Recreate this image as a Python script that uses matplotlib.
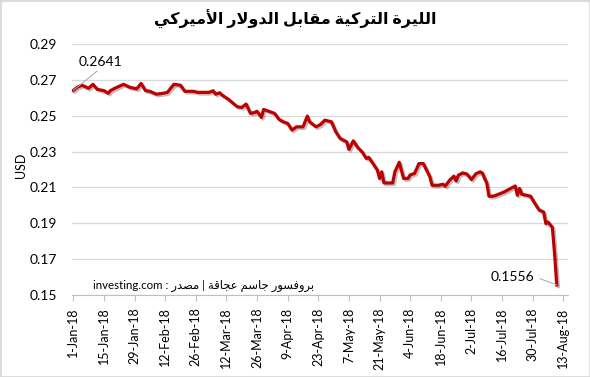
import pandas as pd
import matplotlib
matplotlib.use("Agg")
import matplotlib.pyplot as plt
import matplotlib.patheffects as pe
from matplotlib.patches import Rectangle

# TRY/USD rate
dates = [
    "2018-01-01", "2018-01-03", "2018-01-05", "2018-01-08", "2018-01-10", "2018-01-12",
    "2018-01-15", "2018-01-17", "2018-01-18", "2018-01-20", "2018-01-24", "2018-01-27",
    "2018-01-30", "2018-02-01", "2018-02-03", "2018-02-05", "2018-02-08", "2018-02-11",
    "2018-02-13", "2018-02-16", "2018-02-19", "2018-02-21", "2018-02-25", "2018-02-27",
    "2018-03-04", "2018-03-06", "2018-03-07", "2018-03-09", "2018-03-10", "2018-03-13",
    "2018-03-15", "2018-03-17", "2018-03-19", "2018-03-21", "2018-03-23", "2018-03-25",
    "2018-03-26", "2018-03-28", "2018-03-29", "2018-04-01", "2018-04-03", "2018-04-05",
    "2018-04-07", "2018-04-09", "2018-04-11", "2018-04-13", "2018-04-16", "2018-04-18",
    "2018-04-19", "2018-04-22", "2018-04-24", "2018-04-26", "2018-04-29", "2018-05-01",
    "2018-05-03", "2018-05-06", "2018-05-07", "2018-05-09", "2018-05-11", "2018-05-13",
    "2018-05-15", "2018-05-16", "2018-05-18", "2018-05-20", "2018-05-21", "2018-05-22",
    "2018-05-23", "2018-05-27", "2018-05-28", "2018-05-30", "2018-06-01", "2018-06-03",
    "2018-06-04", "2018-06-06", "2018-06-08", "2018-06-10", "2018-06-13", "2018-06-14",
    "2018-06-17", "2018-06-19", "2018-06-20", "2018-06-22", "2018-06-24", "2018-06-25",
    "2018-06-26", "2018-06-28", "2018-06-30", "2018-07-02", "2018-07-04", "2018-07-06",
    "2018-07-07", "2018-07-08", "2018-07-09", "2018-07-10", "2018-07-12", "2018-07-14",
    "2018-07-17", "2018-07-22", "2018-07-23", "2018-07-24", "2018-07-25", "2018-07-29",
    "2018-07-31", "2018-08-02", "2018-08-04", "2018-08-05", "2018-08-06", "2018-08-08",
    "2018-08-09", "2018-08-10",
]
rates = [
    0.2641, 0.2660, 0.2670, 0.2653, 0.2675, 0.2647,
    0.2640, 0.2625, 0.2640, 0.2653, 0.2675, 0.2658,
    0.2650, 0.2680, 0.2640, 0.2636, 0.2620, 0.2625,
    0.2630, 0.2675, 0.2670, 0.2636, 0.2636, 0.2630,
    0.2630, 0.2639, 0.2620, 0.2628, 0.2615, 0.2591,
    0.2570, 0.2550, 0.2546, 0.2565, 0.2513, 0.2518,
    0.2525, 0.2490, 0.2535, 0.2522, 0.2513, 0.2480,
    0.2466, 0.2457, 0.2420, 0.2438, 0.2438, 0.2498,
    0.2466, 0.2438, 0.2451, 0.2475, 0.2466, 0.2410,
    0.2373, 0.2354, 0.2312, 0.2360, 0.2323, 0.2298,
    0.2261, 0.2268, 0.2233, 0.2196, 0.2150, 0.2187,
    0.2125, 0.2125, 0.2187, 0.2240, 0.2150, 0.2150,
    0.2170, 0.2178, 0.2233, 0.2233, 0.2159, 0.2112,
    0.2112, 0.2118, 0.2107, 0.2140, 0.2163, 0.2136,
    0.2168, 0.2181, 0.2174, 0.2144, 0.2176, 0.2187,
    0.2180, 0.2150, 0.2125, 0.2051, 0.2051, 0.2060,
    0.2075, 0.2108, 0.2056, 0.2094, 0.2062, 0.2051,
    0.2010, 0.1973, 0.1963, 0.1898, 0.1907, 0.1876,
    0.1730, 0.1556,
]
tick_dates = pd.date_range("2018-01-01", "2018-08-13", freq="14D")
tick_labels = [f"{d.day}-{d:%b}-18" for d in tick_dates]
y_ticks = [0.15, 0.17, 0.19, 0.21, 0.23, 0.25, 0.27, 0.29]

title_ar = "الليرة التركية مقابل الدولار الأميركي"
source_ar = "بروفسور جاسم عجاقة"
source_label_ar = "مصدر"

# matplotlib does not shape Arabic, so pick the presentation forms by hand
# (isolated, final, initial, medial)
FORMS = {
    "ا": (0xFE8D, 0xFE8E, None, None), "أ": (0xFE83, 0xFE84, None, None),
    "ب": (0xFE8F, 0xFE90, 0xFE91, 0xFE92), "ة": (0xFE93, 0xFE94, None, None),
    "ت": (0xFE95, 0xFE96, 0xFE97, 0xFE98), "ج": (0xFE9D, 0xFE9E, 0xFE9F, 0xFEA0),
    "د": (0xFEA9, 0xFEAA, None, None), "ر": (0xFEAD, 0xFEAE, None, None),
    "س": (0xFEB1, 0xFEB2, 0xFEB3, 0xFEB4), "ص": (0xFEB9, 0xFEBA, 0xFEBB, 0xFEBC),
    "ع": (0xFEC9, 0xFECA, 0xFECB, 0xFECC), "ف": (0xFED1, 0xFED2, 0xFED3, 0xFED4),
    "ق": (0xFED5, 0xFED6, 0xFED7, 0xFED8), "ك": (0xFED9, 0xFEDA, 0xFEDB, 0xFEDC),
    "ل": (0xFEDD, 0xFEDE, 0xFEDF, 0xFEE0), "م": (0xFEE1, 0xFEE2, 0xFEE3, 0xFEE4),
    "و": (0xFEED, 0xFEEE, None, None), "ي": (0xFEF1, 0xFEF2, 0xFEF3, 0xFEF4),
}
LAM_ALEF = {"ا": (0xFEFB, 0xFEFC), "أ": (0xFEF7, 0xFEF8)}


def shape_ar(text):
    out = []
    i = 0
    n = len(text)
    while i < n:
        c = text[i]
        if c not in FORMS:
            out.append(c)
            i += 1
            continue
        prev = text[i - 1] if i > 0 else ""
        link_prev = prev in FORMS and FORMS[prev][2] is not None
        if c == "ل" and i + 1 < n and text[i + 1] in LAM_ALEF:
            iso, fin = LAM_ALEF[text[i + 1]]
            out.append(chr(fin if link_prev else iso))
            i += 2
            continue
        nxt = text[i + 1] if i + 1 < n else ""
        iso, fin, ini, med = FORMS[c]
        link_next = ini is not None and nxt in FORMS
        if link_prev and link_next:
            code = med
        elif link_prev:
            code = fin
        elif link_next:
            code = ini
        else:
            code = iso
        out.append(chr(code))
        i += 1
    return "".join(reversed(out))


plt.rcParams["font.family"] = ["Lato", "DejaVu Sans"]

x = pd.to_datetime(dates)

fig = plt.figure(figsize=(5.9, 3.77), dpi=100)
ax = fig.add_axes([0.122, 0.2175, 0.8407, 0.6658])

ax.plot(x, rates, color="#C00000", linewidth=2.3, solid_joinstyle="round",
        path_effects=[pe.SimpleLineShadow(offset=(1.2, -1.2), shadow_color="black", alpha=0.25),
                      pe.Normal()], zorder=3)

ax.set_ylim(0.15, 0.29)
ax.set_yticks(y_ticks)
ax.set_yticklabels([f"{v:.2f}" for v in y_ticks], fontsize=10)
ax.set_xlim(pd.Timestamp("2017-12-31 10:00"), pd.Timestamp("2018-08-15 03:00"))
ax.set_xticks(tick_dates)
ax.set_xticklabels(tick_labels, rotation=90, fontsize=9, va="top", ha="center")

ax.grid(axis="y", color="#D9D9D9", linewidth=0.9)
ax.set_axisbelow(True)
for s in ["top", "right", "left"]:
    ax.spines[s].set_visible(False)
ax.spines["bottom"].set_color("#BFBFBF")
ax.tick_params(axis="y", length=0, pad=11, colors="#000000")
ax.tick_params(axis="x", length=4, color="#BFBFBF", pad=5)

# first / last value callouts
ax.annotate(f"{rates[0]:.4f}", xy=(x[0], rates[0]), xytext=(4, 16), textcoords="offset points",
            fontsize=10, ha="left", va="bottom",
            arrowprops=dict(arrowstyle="-", color="#A6A6A6", lw=0.7, shrinkA=0, shrinkB=0,
                            relpos=(0.5, 0.0)))
ax.annotate(f"{rates[-1]:.4f}", xy=(x[-1], rates[-1]), xytext=(-16, 6), textcoords="offset points",
            fontsize=10, ha="right", va="center",
            arrowprops=dict(arrowstyle="-", color="#A6A6A6", lw=0.7, shrinkA=2, shrinkB=0,
                            relpos=(1.0, 0.5)))

source_text = "investing.com : " + shape_ar(source_label_ar) + " | " + shape_ar(source_ar)
fig.text(93 / 590, 1 - 286 / 377, source_text, fontsize=8.3, ha="left", va="center")

fig.text(0.5, 1 - 19 / 377, shape_ar(title_ar), fontsize=11.5, fontweight="bold",
         ha="center", va="center")
fig.text(20.5 / 590, 1 - 165 / 377, "USD", fontsize=9, rotation=90, ha="center", va="center")

fig.patches.append(Rectangle((0, 0), 1, 1, transform=fig.transFigure, fill=False,
                             edgecolor="#D9D9D9", linewidth=2))

fig.savefig("out.png", dpi=100)
